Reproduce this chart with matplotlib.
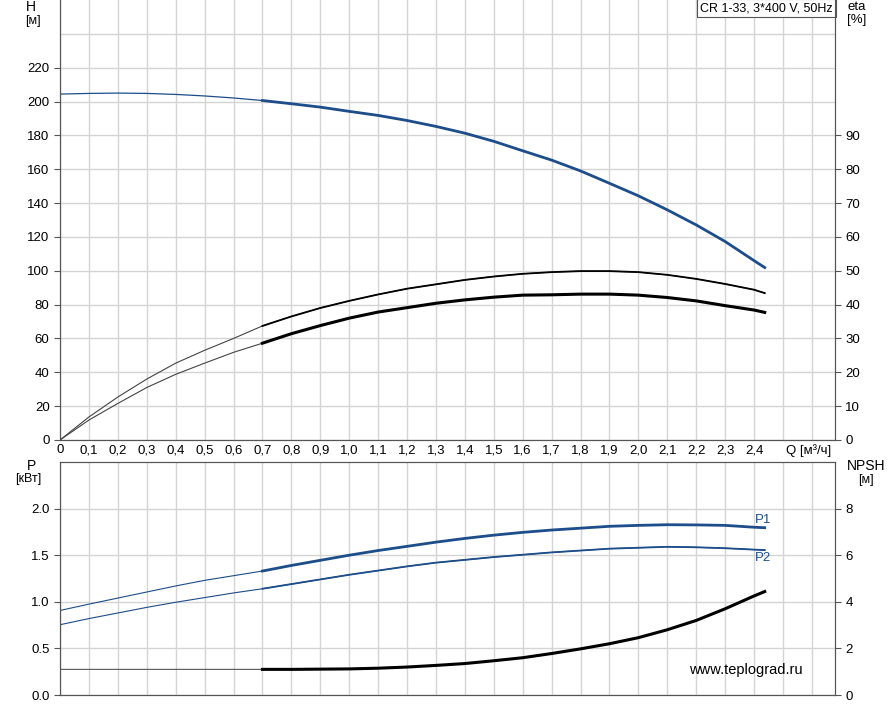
import numpy as np
import matplotlib
matplotlib.use('Agg')
import matplotlib.pyplot as plt

plt.rcParams['font.family'] = ['Liberation Sans', 'DejaVu Sans']
plt.rcParams['font.size'] = 9.5

# расход, м3/ч
q = [0.0, 0.1, 0.2, 0.3, 0.4, 0.5, 0.6, 0.7, 0.8, 0.9, 1.0, 1.1, 1.2,
     1.3, 1.4, 1.5, 1.6, 1.7, 1.8, 1.9, 2.0, 2.1, 2.2, 2.3, 2.4, 2.437]
# напор, м
head = [204.4, 204.8, 205.0, 204.8, 204.2, 203.3, 202.1, 200.6, 198.7, 196.7,
        194.2, 191.8, 188.8, 185.3, 181.3, 176.5, 170.9, 165.4, 159.0, 151.7,
        144.3, 136.0, 127.1, 117.3, 106.0, 101.9]
# КПД насоса, %
eta_pump = [0.0, 6.8, 12.7, 18.0, 22.7, 26.5, 30.0, 33.7, 36.5, 39.0, 41.1,
            43.0, 44.7, 46.0, 47.3, 48.3, 49.1, 49.6, 49.9, 49.9, 49.6, 48.8,
            47.6, 46.1, 44.4, 43.4]
# КПД агрегата, %
eta_total = [0.0, 5.9, 10.8, 15.5, 19.4, 22.7, 25.9, 28.6, 31.4, 33.8, 36.0,
             37.8, 39.1, 40.4, 41.4, 42.2, 42.8, 42.9, 43.1, 43.1, 42.8, 42.1,
             41.1, 39.7, 38.4, 37.7]
# мощность, кВт
p1 = [0.907, 0.975, 1.04, 1.105, 1.17, 1.23, 1.28, 1.33, 1.39, 1.445, 1.50,
      1.55, 1.595, 1.64, 1.68, 1.715, 1.745, 1.77, 1.79, 1.81, 1.82, 1.827,
      1.825, 1.82, 1.80, 1.795]
p2 = [0.754, 0.82, 0.88, 0.94, 0.995, 1.045, 1.095, 1.14, 1.19, 1.24, 1.29,
      1.335, 1.38, 1.42, 1.45, 1.48, 1.505, 1.53, 1.55, 1.57, 1.58, 1.59,
      1.585, 1.575, 1.56, 1.555]
# NPSH, м
npsh = [1.1, 1.1, 1.1, 1.1, 1.1, 1.1, 1.1, 1.1, 1.1, 1.11, 1.12, 1.15, 1.2,
        1.27, 1.35, 1.47, 1.6, 1.78, 1.98, 2.2, 2.46, 2.8, 3.2, 3.7, 4.25, 4.44]

x_ticks = np.arange(0, 2.65, 0.1)
x_labels = ['0'] + [f'{v:.1f}'.replace('.', ',') for v in x_ticks[1:25]] + ['', '']

blue = '#1d4d8a'
grid_c = '#d4d4d4'
spine_c = '#555555'
q = np.array(q)
work = q >= 0.7  # рабочий диапазон - толстая линия

fig = plt.figure(figsize=(8.93, 7.05), dpi=100)
ax = fig.add_axes([60 / 893, 265 / 705, 775 / 893, 440 / 705])
ax3 = fig.add_axes([60 / 893, 10 / 705, 775 / 893, 233 / 705])

xmax = 2.68
for a in (ax, ax3):
    a.set_xlim(0, xmax)
    a.set_xticks(x_ticks)
    a.grid(True, which='both', color=grid_c, lw=1)
    a.set_axisbelow(True)
    for s in a.spines.values():
        s.set_color(spine_c)
    a.tick_params(axis='x', length=0, pad=3)
    a.tick_params(axis='y', length=4, color=spine_c)
    a.tick_params(which='minor', length=0)

ax.set_xticklabels(x_labels)
ax3.set_xticklabels([])
ax.spines['top'].set_visible(False)

# H
ax.set_ylim(0, 260)
ax.set_yticks(np.arange(0, 221, 20))
ax.set_yticks([240], minor=True)
h = np.array(head)
ax.plot(q, h, color=blue, lw=0.9)
ax.plot(q[work], h[work], color=blue, lw=2)

# eta
ax2 = ax.twinx()
ax2.set_ylim(0, 130)
ax2.set_yticks(np.arange(0, 91, 10))
ax2.tick_params(axis='y', length=4, color=spine_c)
ax2.spines['top'].set_visible(False)
for s in ax2.spines.values():
    s.set_color(spine_c)
e1 = np.array(eta_pump)
e2 = np.array(eta_total)
ax2.plot(q, e1, color='#444444', lw=0.8)
ax2.plot(q[work], e1[work], color='black', lw=1.3)
ax2.plot(q, e2, color='#444444', lw=0.8)
ax2.plot(q[work], e2[work], color='black', lw=2.2)

ax.annotate('Q [м³/ч]', xy=(2.59, 0), xycoords=('data', 'axes fraction'),
            xytext=(0, -3), textcoords='offset points', ha='center', va='top')
ax.text(0.997, 0.995, 'CR 1-33, 3*400 V, 50Hz', transform=ax.transAxes,
        ha='right', va='top', fontsize=9,
        bbox=dict(boxstyle='square,pad=0.25', fc='white', ec=spine_c, lw=0.8))

# P
ax3.set_ylim(0, 2.5)
ax3.set_yticks([0.0, 0.5, 1.0, 1.5, 2.0])
ax3.set_yticklabels(['0.0', '0.5', '1.0', '1.5', '2.0'])
pp1 = np.array(p1)
pp2 = np.array(p2)
ax3.plot(q, pp1, color=blue, lw=0.8)
ax3.plot(q[work], pp1[work], color=blue, lw=2)
ax3.plot(q, pp2, color=blue, lw=0.8)
ax3.plot(q[work], pp2[work], color=blue, lw=1.3)
ax3.text(2.43, 1.875, 'P1', color=blue, ha='center', va='center')
ax3.text(2.43, 1.47, 'P2', color=blue, ha='center', va='center')

# NPSH
ax4 = ax3.twinx()
ax4.set_ylim(0, 10)
ax4.set_yticks([0, 2, 4, 6, 8])
ax4.tick_params(axis='y', length=4, color=spine_c)
for s in ax4.spines.values():
    s.set_color(spine_c)
n = np.array(npsh)
ax4.plot(q, n, color='#555555', lw=0.8)
ax4.plot(q[work], n[work], color='black', lw=2.2)

ax3.text(2.37, 0.27, 'www.teplograd.ru', ha='center', va='center', fontsize=10.5)

# подписи осей
fig.text(31 / 893, 1 - 7 / 705, 'H', ha='center', va='center', fontsize=10)
fig.text(33 / 893, 1 - 21 / 705, '[м]', ha='center', va='center', fontsize=9)
fig.text(857 / 893, 1 - 7 / 705, 'eta', ha='center', va='center', fontsize=9.5)
fig.text(857 / 893, 1 - 20 / 705, '[%]', ha='center', va='center', fontsize=9.5)
fig.text(31 / 893, 1 - 466 / 705, 'P', ha='center', va='center', fontsize=10)
fig.text(28 / 893, 1 - 479 / 705, '[кВт]', ha='center', va='center', fontsize=9)
fig.text(866 / 893, 1 - 466 / 705, 'NPSH', ha='center', va='center', fontsize=10)
fig.text(866 / 893, 1 - 480 / 705, '[м]', ha='center', va='center', fontsize=9)

fig.savefig('out.png', dpi=100)
